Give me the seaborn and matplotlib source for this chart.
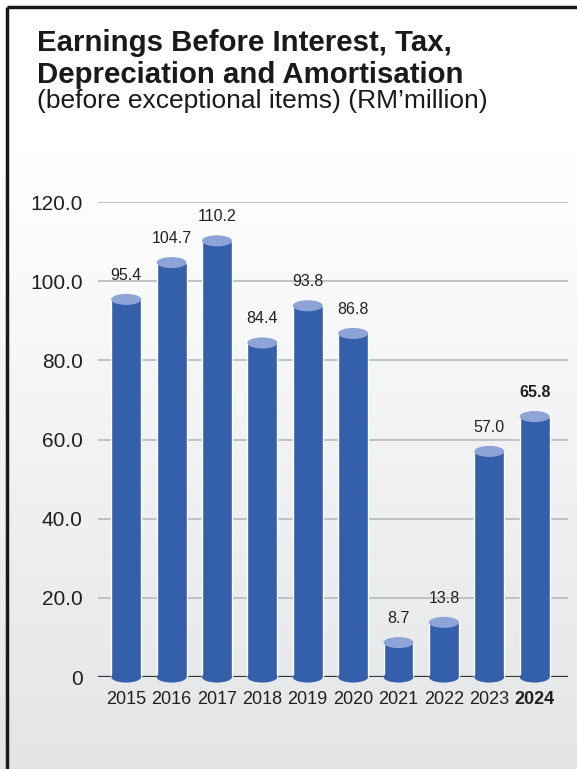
import seaborn as sns
import matplotlib.pyplot as plt
import matplotlib.patches as mpatches
import numpy as np
import pandas as pd

# --- Data ---
years = ['2015', '2016', '2017', '2018', '2019', '2020', '2021', '2022', '2023', '2024']
ebitda = [95.4, 104.7, 110.2, 84.4, 93.8, 86.8, 8.7, 13.8, 57.0, 65.8]
y_ticks = [0, 20, 40, 60, 80, 100, 120]
y_tick_labels = ['0', '20.0', '40.0', '60.0', '80.0', '100.0', '120.0']

df = pd.DataFrame({'Year': years, 'EBITDA': ebitda})

sns.set_theme(style="white")
plt.rcParams['font.family'] = ['Liberation Sans', 'DejaVu Sans']
narrow = ['Liberation Sans Narrow', 'Liberation Sans', 'DejaVu Sans']

body_col = '#345fab'
top_col = '#8fa4d6'

fig = plt.figure(figsize=(5.77, 7.69), dpi=100)

# background gradient (white at top, light grey at bottom)
bg = fig.add_axes([0, 0, 1, 1], zorder=-10)
grad = np.linspace(0, 1, 256).reshape(-1, 1)
top_rgb = np.array([1.0, 1.0, 1.0])
bot_rgb = np.array([0.894, 0.898, 0.906])
w = np.clip((grad - 0.2) / 0.8, 0, 1)
img = top_rgb * (1 - w[..., None]) + bot_rgb * w[..., None]
bg.imshow(img, aspect='auto', extent=[0, 1, 0, 1], origin='upper')
bg.set_xlim(0, 1)
bg.set_ylim(0, 1)
bg.axis('off')
# frame lines (left and top)
bg.plot([0.0125, 0.0125], [0, 0.991], color='#1a1a1a', lw=2.5, solid_capstyle='butt')
bg.plot([0.0125, 1.0], [0.991, 0.991], color='#1a1a1a', lw=2.5, solid_capstyle='butt')

# --- Titles ---
fig.text(0.064, 0.9337, "Earnings Before Interest, Tax,", fontsize=21.2, fontweight='bold',
         color='#1a1a1a', va='baseline')
fig.text(0.064, 0.892, "Depreciation and Amortisation", fontsize=21.2, fontweight='bold',
         color='#1a1a1a', va='baseline')
fig.text(0.064, 0.8596, "(before exceptional items) (RM\u2019million)", fontsize=19,
         color='#1a1a1a', va='baseline')

# --- Chart ---
ax = fig.add_axes([0.170, 0.1196, 0.814, 0.6177])
ax.patch.set_alpha(0)
sns.barplot(data=df, x='Year', y='EBITDA', color=body_col, saturation=1,
            width=0.66, ax=ax, zorder=3)

ax.set_ylim(0, 120)
ax.set_xlim(-0.62, 9.73)
for t in y_ticks[1:]:
    ax.axhline(t, color='#bdbec2', lw=1.3, zorder=1)
ax.axhline(0, color='#333333', lw=1.6, zorder=2)

# cylinder ends
ell_h = 2.8
for i, v in enumerate(ebitda):
    ax.add_patch(mpatches.Ellipse((i, 0), 0.66, ell_h, facecolor=body_col,
                                  edgecolor='none', zorder=3, clip_on=False))
    ax.add_patch(mpatches.Ellipse((i, v), 0.66, ell_h, facecolor=top_col,
                                  edgecolor='none', zorder=4, clip_on=False))
    ax.text(i, v + 4.2, f"{v:.1f}", ha='center', va='bottom', fontsize=11.5,
            family=narrow, color='#231f20',
            fontweight='bold' if i == len(ebitda) - 1 else 'normal')

ax.set_yticks(y_ticks)
ax.set_yticklabels(y_tick_labels, fontsize=15, color='#231f20')
ax.tick_params(axis='y', length=0, pad=11)
ax.tick_params(axis='x', length=0, pad=10)
for k, lab in enumerate(ax.get_xticklabels()):
    lab.set_fontsize(13)
    lab.set_family(narrow)
    lab.set_color('#231f20')
    if k == len(years) - 1:
        lab.set_fontweight('bold')
ax.set_xlabel('')
ax.set_ylabel('')
sns.despine(ax=ax, left=True, bottom=True)

fig.savefig('out.png', dpi=100)
